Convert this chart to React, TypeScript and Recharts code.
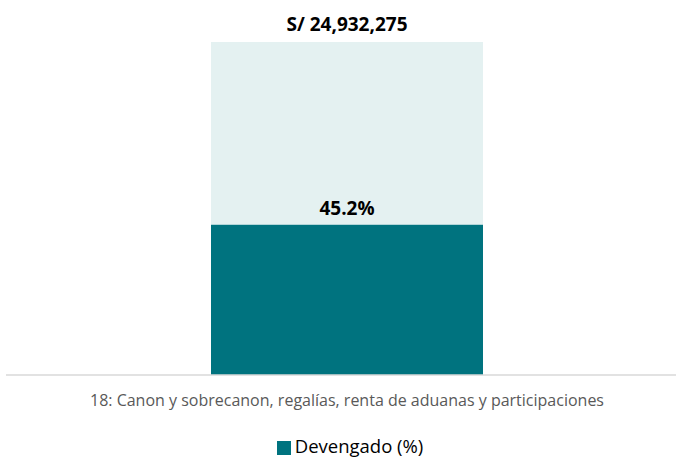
import { Bar, BarChart, LabelList, Legend, XAxis, YAxis } from "recharts";

const categories = ["18: Canon y sobrecanon, regalías, renta de aduanas y participaciones"];
const devengadoPct = [45.2];
const restantePct = [54.8];
const totalLabels = ["S/ 24,932,275"];

const data = categories.map((name, i) => ({
  name,
  devengado: devengadoPct[i],
  restante: restantePct[i],
  total: totalLabels[i],
}));

const FONT = "'Open Sans', 'Noto Sans', sans-serif";

export default function App() {
  return (
    <div style={{ position: "absolute", left: 0, top: 0, fontFamily: FONT }}>
      <BarChart
        width={676}
        height={458}
        data={data}
        margin={{ top: 42, right: 0, left: 6, bottom: 0 }}
      >
        <XAxis
          dataKey="name"
          padding={{ left: 12, right: 0 }}
          axisLine={{ stroke: "#d9d9d9", strokeWidth: 1.5 }}
          tickLine={false}
          tick={{ fill: "#595959", fontSize: 16, fontFamily: FONT }}
          tickMargin={14}
          height={58}
        />
        <YAxis hide domain={[0, 100]} />
        <Legend
          verticalAlign="bottom"
          iconType="square"
          iconSize={14}
          wrapperStyle={{ fontFamily: FONT, fontSize: 18.5, color: "#000", paddingLeft: 14 }}
          formatter={(v) => <span style={{ color: "#000" }}>{v}</span>}
        />
        <Bar
          dataKey="devengado"
          name="Devengado (%)"
          stackId="a"
          fill="#00737f"
          barSize={272}
          isAnimationActive={false}
        >
          <LabelList
            dataKey="devengado"
            position="top"
            offset={9}
            formatter={(v) => `${Number(v).toFixed(1)}%`}
            style={{ fill: "#000", fontWeight: 700, fontSize: 19, fontFamily: FONT }}
          />
        </Bar>
        <Bar
          dataKey="restante"
          stackId="a"
          fill="#e4f1f1"
          barSize={272}
          legendType="none"
          isAnimationActive={false}
        >
          <LabelList
            dataKey="total"
            position="top"
            offset={11}
            style={{ fill: "#000", fontWeight: 700, fontSize: 19, fontFamily: FONT }}
          />
        </Bar>
      </BarChart>
    </div>
  );
}
